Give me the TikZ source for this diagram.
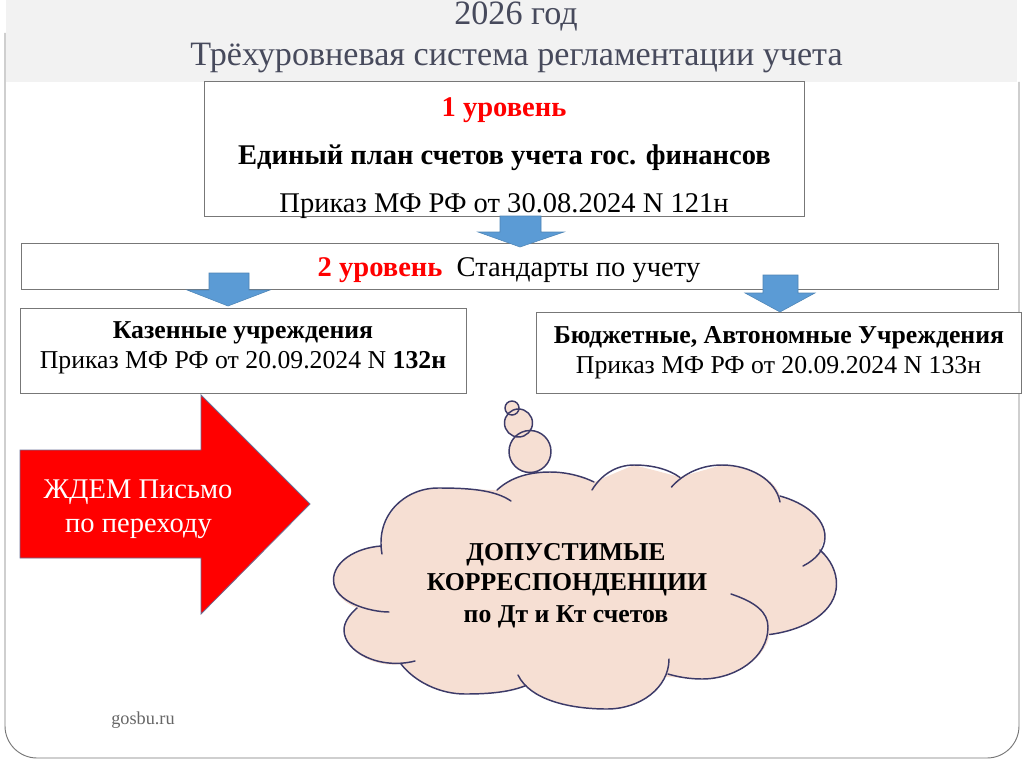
\documentclass[tikz,border=0pt]{standalone}
\usepackage{fontspec}
\setmainfont{Liberation Serif}
\definecolor{titlegray}{HTML}{F2F2F2}
\definecolor{titleink}{HTML}{474A5C}
\definecolor{framegray}{HTML}{777777}
\definecolor{arrowblue}{HTML}{5B9BD5}
\definecolor{cloudfill}{HTML}{F6DFD3}
\definecolor{cloudline}{HTML}{3C3A68}
\definecolor{redline}{HTML}{6A6F95}
\tikzset{
  levelbox/.style={rectangle,draw=framegray,fill=white,line width=0.75pt,inner sep=0pt},
  titletext/.style={anchor=base,inner sep=0pt,text=titleink,font=\fontsize{25.6}{28}\selectfont},
  boxtext/.style={anchor=base,font=\fontsize{21.4}{24}\selectfont},
  smalltext/.style={anchor=base,font=\fontsize{19.3}{22}\selectfont},
  bluearrow/.style={fill=arrowblue,draw=arrowblue!85!black,line width=0.4pt},
  cloudedge/.style={draw=cloudline,line width=1.1pt},
}
\begin{document}
\begin{tikzpicture}[x=0.75pt,y=-0.75pt]
    \useasboundingbox (0,0) rectangle (1024,767);
    \draw[framegray,line width=0.7pt,rounded corners=24pt] (5,33) -- (5,758) -- (1019,758) -- (1019,82);
    \fill[titlegray] (6,0) rectangle (1017,82);
    \node[titletext] (year) at (516,25) {2026 год};
    \node[titletext] (title) at (516.5,65) {Трёхуровневая система регламентации учета};

    \node[levelbox,minimum width=450pt,minimum height=100.5pt] (level_one) at (504,149) {};
    \node[boxtext,text=red,font=\fontsize{21.4}{24}\selectfont\bfseries] (one_head) at (504,116) {1 уровень};
    \node[boxtext,font=\fontsize{21.4}{24}\selectfont\bfseries] (one_name) at (504.5,164) {Единый план счетов учета гос. финансов};
    \node[boxtext] (one_order) at (504,212) {Приказ МФ РФ от 30.08.2024 N 121н};

    \node[levelbox,minimum width=732.75pt,minimum height=34.5pt] (level_two) at (509.5,266) {};
    \node[boxtext] (two_name) at (509,276) {\textcolor{red}{\bfseries 2 уровень}\ \ Стандарты по учету};

    \draw[bluearrow] (500,216) -- (541,216) -- (541,232) -- (564,232) -- (520,247) -- (478,232) -- (500,232) -- cycle;
    \draw[bluearrow] (209,273) -- (249,273) -- (249,290) -- (270,290) -- (228,306) -- (187,290) -- (209,290) -- cycle;
    \draw[bluearrow] (763,275) -- (798,275) -- (798,293) -- (815,293) -- (780,312) -- (745,293) -- (763,293) -- cycle;

    \node[levelbox,minimum width=334.5pt,minimum height=63.75pt] (treasury) at (243,350.5) {};
    \node[smalltext,font=\fontsize{19.3}{22}\selectfont\bfseries] (treasury_name) at (243,338) {Казенные учреждения};
    \node[smalltext] (treasury_order) at (243,368) {Приказ МФ РФ от 20.09.2024 N \textbf{132н}};

    \node[levelbox,minimum width=363.75pt,minimum height=60.75pt] (budget) at (778.5,352.5) {};
    \node[smalltext,font=\fontsize{19.3}{22}\selectfont\bfseries] (budget_name) at (779,343) {Бюджетные, Автономные Учреждения};
    \node[smalltext] (budget_order) at (778.5,373) {Приказ МФ РФ от 20.09.2024 N 133н};

    % red arrow
    \draw[fill=red,draw=redline,line width=0.6pt] (20,450) -- (201,450) -- (201,395) -- (310,504) -- (201,614) -- (201,558) -- (20,558) -- cycle;
    \node[anchor=base,font=\fontsize{21.4}{24}\selectfont,text=white] (wait_one) at (138,498) {ЖДЕМ Письмо};
    \node[anchor=base,font=\fontsize{21.4}{24}\selectfont,text=white] (wait_two) at (138.5,532) {по переходу};

    % thought bubbles
    \fill[cloudfill] (530,451.5) circle (21);
    \fill[cloudfill] (518.5,423) circle (14);
    \fill[cloudfill] (512,408) circle (7);
    \draw[cloudedge] (530,451.5) circle (21);
    \draw[cloudedge] (518.5,423) circle (14);
    \draw[cloudedge] (512,408) circle (7);

    % cloud body
    \fill[cloudfill] (497,490) .. controls (512,476) and (532,472) .. (550,472) .. controls (568,472) and (584,477) .. (594,482)
      -- (634,465) -- (680,477) -- (722,465) .. controls (750,465) and (776,480) .. (780,496)
      .. controls (805,503) and (825,518) .. (825,537) -- (820,550) .. controls (831,560) and (836.5,572) .. (836.5,584)
      .. controls (836.5,612) and (805,630) .. (769.5,634.5) .. controls (766,658) and (735,679) .. (702,679)
      .. controls (690,679) and (676,677) .. (665,677) .. controls (655,697) and (632,709) .. (607,709)
      .. controls (570,709) and (540,700) .. (526,685.5) .. controls (510,692) and (490,694) .. (465,694)
      .. controls (440,694) and (415,682) .. (401,664) .. controls (375,668) and (344,652) .. (344,630)
      .. controls (344,622) and (350,614) .. (357,608) .. controls (342,602) and (333.5,592) .. (333.5,580)
      .. controls (333.5,562) and (355,548) .. (381,546) .. controls (381,515) and (405,488) .. (438,488)
      .. controls (460,488) and (480,490) .. (497,490) -- cycle;
    \draw[cloudedge,line cap=round] (497,490) .. controls (512,476) and (532,472) .. (550,472) .. controls (568,472) and (584,477) .. (594,482);
    \draw[cloudedge,line cap=round] (592,490) .. controls (601,475) and (616,465) .. (634,465) .. controls (654,465) and (670,470) .. (680,477.5);
    \draw[cloudedge,line cap=round] (671.5,487) .. controls (684,473) and (702,465) .. (722,465) .. controls (750,465) and (776,480) .. (780,502);
    \draw[cloudedge,line cap=round] (780,496) .. controls (805,503) and (825,518) .. (825,537) .. controls (825,550) and (815,560) .. (803,566);
    \draw[cloudedge,line cap=round] (820,550) .. controls (831,560) and (836.5,572) .. (836.5,584) .. controls (836.5,612) and (805,630) .. (769.5,634.5);
    \draw[cloudedge,line cap=round] (731,594) .. controls (755,602) and (768,612) .. (768,627) .. controls (768,658) and (735,679) .. (702,679) .. controls (690,679) and (678,677) .. (668,674);
    \draw[cloudedge,line cap=round] (669,659) .. controls (669,688) and (640,709) .. (607,709) .. controls (570,709) and (530,700) .. (518,675);
    \draw[cloudedge,line cap=round] (526,685.5) .. controls (510,692) and (490,694) .. (465,694) .. controls (440,694) and (415,682) .. (401,664);
    \draw[cloudedge,line cap=round] (415,661) .. controls (380,670) and (344,652) .. (344,630) .. controls (344,622) and (350,614) .. (357,608);
    \draw[cloudedge,line cap=round] (389,612) .. controls (370,612) and (333.5,602) .. (333.5,580) .. controls (333.5,562) and (355,548) .. (381,546);
    \draw[cloudedge,line cap=round] (382,554) .. controls (375,515) and (405,488) .. (438,488) .. controls (470,488) and (495,490) .. (511,501);

    \node[anchor=base,font=\fontsize{19.3}{22}\selectfont\bfseries] (cloud_one) at (566,560) {ДОПУСТИМЫЕ};
    \node[anchor=base,font=\fontsize{19.3}{22}\selectfont\bfseries] (cloud_two) at (567,590) {КОРРЕСПОНДЕНЦИИ};
    \node[anchor=base,font=\fontsize{19.3}{22}\selectfont\bfseries] (cloud_three) at (566,622) {по Дт и Кт счетов};

    \node[anchor=base,text=black!60,font=\fontsize{13.7}{16}\selectfont] (source) at (143,724) {gosbu.ru};
\end{tikzpicture}
\end{document}
